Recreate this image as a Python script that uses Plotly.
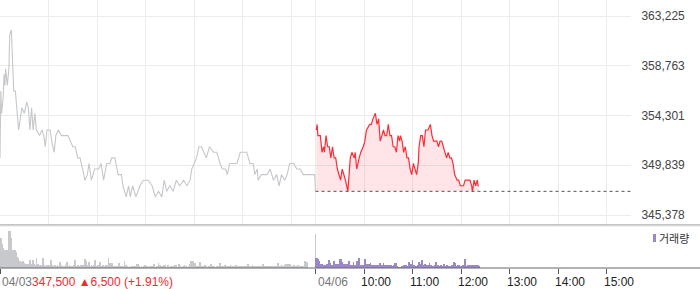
import plotly.graph_objects as go

# ---------------- data ----------------
# time axis: minutes since 04/03 09:00 (04/06 09:00 = 390)
gray_t = [0, 1, 2, 4, 5, 6, 7, 9, 11, 12, 14, 16, 17, 19, 23, 25, 27, 30, 33, 35,
          37, 39, 41, 43, 45, 49, 52, 54, 56, 58, 62, 64, 67, 69, 72, 76, 80, 84, 87, 90,
          93, 96, 99, 102, 105, 108, 110, 113, 117, 122, 125, 128, 132, 136, 138, 142, 146, 150, 152, 156,
          159, 161, 164, 168, 173, 177, 183, 188, 192, 196, 200, 203, 206, 210, 214, 218, 222, 227, 231, 235,
          237, 240, 243, 246, 249, 252, 255, 259, 264, 268, 272, 275, 279, 281, 284, 293, 297, 305, 309, 313,
          315, 318, 319, 323, 330, 334, 338, 342, 345, 348, 352, 355, 358, 363, 367, 371, 375, 389, 390]
gray_p = [350500, 356500, 354500, 356000, 358000, 357000, 358500, 357000, 358500, 361500,
          362000, 358500, 356500, 356500, 353000, 354000, 355000, 354500, 355500, 355000,
          353000, 355000, 353000, 354500, 353000, 352500, 353000, 352500, 351500, 353000,
          353000, 352000, 351000, 352500, 353000, 352500, 352500, 352500, 352000, 351500,
          351500, 350500, 350500, 349500, 348500, 349000, 350000, 348500, 349500, 349500,
          350000, 348500, 350000, 350000, 350500, 350500, 349000, 349000, 348000, 347000,
          348000, 347000, 348000, 347000, 348000, 348500, 348500, 348000, 347000, 347500,
          347000, 348500, 347500, 348000, 347500, 348500, 348000, 348500, 348000, 348500,
          349500, 350000, 350500, 351500, 351500, 351000, 350500, 351500, 351000, 351000,
          350000, 349500, 349500, 349000, 350000, 350000, 351000, 351000, 350000, 350000,
          349000, 349500, 348500, 349000, 349000, 349500, 348500, 349000, 348000, 349000,
          348500, 349000, 350000, 350000, 349500, 349500, 349000, 349000, 347500]

red_t = [391, 392, 393, 396, 398, 400, 401, 403, 405, 407, 409, 411, 413, 415, 417, 419, 421, 423, 425, 427,
         430, 433, 435, 438, 439, 441, 444, 446, 449, 451, 453, 457, 459, 461, 464, 466, 468, 470, 472, 474,
         476, 478, 480, 482, 484, 486, 488, 490, 492, 494, 495, 497, 499, 501, 503, 505, 507, 509, 511, 513,
         515, 517, 518, 520, 522, 524, 526, 528, 529, 532, 534, 536, 540, 542, 544, 546, 548, 550, 552, 554,
         556, 558, 560, 562, 565, 567, 569, 573, 575, 581, 583, 584, 586, 588, 590, 591, 592]
red_p = [353000, 353500, 352500, 352500, 351000, 351500, 351000, 352500, 351500, 351500,
         350500, 351500, 350500, 350500, 349500, 349000, 348500, 349500, 349000, 348500,
         347500, 350500, 351000, 350500, 351000, 349500, 350500, 351000, 351500, 352000,
         353000, 353500, 353500, 354000, 354500, 353500, 354000, 352000, 352500, 353000,
         352500, 352500, 353500, 352500, 352500, 351500, 351500, 351000, 352500, 352000,
         352500, 352000, 351000, 351500, 350500, 350500, 349500, 349000, 350000, 349500,
         349000, 350000, 351500, 352500, 352500, 351500, 353000, 353000, 353000, 353500,
         352500, 352000, 352000, 351500, 352000, 352000, 351500, 351000, 350500, 351000,
         350500, 350500, 350000, 349000, 348500, 348500, 348000, 348000, 348500, 348500,
         348000, 347500, 348500, 348000, 348500, 348000, 348000]

# per-minute volume, 04/03 09:00 .. 15:30 (last = closing auction)
vol_0403 = [
    23, 30, 20, 24, 20, 15, 18, 14, 16, 18, 15, 37, 37, 33, 30, 18, 17, 18, 11, 18, 16, 11, 10, 7, 6, 7, 6, 5, 7, 6,
    5, 4, 3, 4, 3, 4, 3, 8, 3, 4, 3, 8, 4, 3, 3, 10, 3, 4, 2, 3, 3, 2, 3, 10, 2, 3, 2, 2, 3, 2,
    2, 3, 2, 8, 2, 3, 2, 2, 3, 2, 2, 3, 2, 2, 6, 2, 3, 2, 2, 1, 2, 3, 2, 6, 2, 2, 3, 2, 2, 1,
    2, 3, 2, 8, 2, 2, 3, 2, 2, 2, 3, 2, 2, 3, 2, 9, 3, 7, 2, 3, 6, 2, 2, 3, 2, 2, 3, 8, 2, 2,
    2, 3, 2, 2, 6, 2, 2, 3, 2, 2, 2, 3, 2, 3, 10, 3, 5, 4, 5, 2, 2, 1, 2, 2, 1, 2, 2, 5, 2, 1,
    2, 1, 2, 2, 7, 2, 3, 2, 1, 1, 2, 1, 1, 2, 1, 1, 2, 1, 2, 4, 3, 4, 2, 1, 1, 2, 1, 1, 2, 3,
    1, 1, 2, 1, 1, 2, 1, 1, 2, 1, 4, 2, 1, 1, 2, 1, 5, 2, 3, 1, 2, 1, 3, 2, 3, 1, 1, 2, 3, 1,
    1, 2, 1, 1, 2, 1, 3, 2, 3, 1, 1, 4, 1, 2, 1, 1, 2, 1, 3, 1, 2, 1, 1, 2, 1, 4, 7, 2, 1, 7,
    5, 5, 2, 1, 2, 1, 2, 6, 2, 1, 2, 1, 2, 3, 1, 2, 1, 1, 2, 1, 2, 4, 1, 2, 1, 2, 1, 1, 2, 1,
    2, 1, 5, 2, 1, 2, 1, 2, 3, 1, 2, 1, 2, 1, 2, 3, 1, 2, 1, 2, 1, 2, 3, 1, 2, 1, 2, 1, 2, 1,
    2, 1, 2, 1, 2, 1, 2, 4, 1, 2, 1, 2, 3, 1, 2, 1, 2, 1, 2, 1, 2, 1, 2, 1, 2, 4, 1, 2, 1, 2,
    1, 2, 1, 2, 1, 2, 1, 2, 1, 2, 2, 1, 2, 2, 5, 2, 1, 2, 3, 2, 1, 2, 3, 2, 4, 3, 4, 2, 4, 2,
    2, 1, 2, 3, 2, 1, 2, 2, 3, 2, 1, 2, 2, 1, 2, 1, 2, 7, 2, 6, 0, 0, 0, 0, 0, 0, 0, 0, 0, 0,
    34,
]
# per-minute volume, 04/06 09:01 .. 12:22
vol_0406_start = 391
vol_0406 = [
    10, 10, 9, 7, 5, 4, 4, 4, 3, 3, 3, 3, 2, 4, 4, 4, 8, 5, 3, 2, 3, 3, 7, 4, 4, 4, 4, 4, 3, 9,
    6, 9, 6, 3, 4, 4, 4, 4, 4, 3, 7, 3, 3, 3, 2, 3, 6, 3, 3, 3, 7, 3, 3, 10, 3, 3, 3, 3, 3, 3,
    9, 4, 4, 4, 4, 4, 4, 5, 3, 3, 3, 3, 3, 3, 3, 3, 3, 3, 3, 5, 3, 3, 3, 5, 3, 3, 3, 3, 3, 3,
    3, 3, 3, 2, 2, 2, 3, 5, 5, 5, 2, 1, 1, 1, 1, 1, 2, 2, 3, 3, 2, 3, 2, 2, 3, 6, 3, 4, 3, 8,
    3, 3, 2, 2, 2, 2, 3, 6, 3, 4, 3, 8, 3, 3, 4, 3, 3, 3, 3, 2, 5, 3, 3, 2, 2, 2, 2, 3, 6, 3,
    3, 2, 2, 2, 3, 2, 2, 2, 4, 2, 2, 2, 3, 2, 2, 2, 2, 3, 3, 3, 6, 3, 5, 2, 2, 3, 3, 3, 2, 2,
    2, 3, 2, 2, 9, 2, 2, 3, 2, 3, 3, 3, 2, 2, 3, 2, 3, 3, 3, 3, 3, 2,
]

prev_close = 347500
last_price = 347500
change = 6500
change_pct = 1.91

y_ticks = [345378, 349839, 354301, 358763, 363225]
grid_minutes = [0, 60, 120, 180, 240, 300, 360, 390, 450, 510, 570, 630, 690, 750]
x_tick_minutes = [0, 390, 450, 510, 570, 630, 690, 750]
x_tick_text = ["04/03", "04/06", "10:00", "11:00", "12:00", "13:00", "14:00", "15:00"]
day_open, day_end = 390, 780
legend_label = "거래량"

# ---------------- layout constants ----------------
W, H = 700, 289
PL, PR = 0, 631          # plot area x pixels
PT, PB = 0, 268          # plot area y pixels
PRICE_BOTTOM = 225
VOL_TOP = 226
ph = PB - PT

def py(px):  # pixel y -> paper y
    return (PB - px) / ph

def pxx(px):  # pixel x -> paper x
    return (px - PL) / (PR - PL)

FONT = "Liberation Sans, Arial, Noto Sans CJK KR, sans-serif"
GRID = "#ececec"

fig = go.Figure()

# gray previous-day line
fig.add_trace(go.Scatter(x=gray_t, y=gray_p, mode="lines",
                         line=dict(color="#c5c7cb", width=1.1),
                         xaxis="x", yaxis="y", hoverinfo="skip"))
# invisible baseline for fill
fig.add_trace(go.Scatter(x=red_t, y=[prev_close] * len(red_t), mode="lines",
                         line=dict(width=0, color="rgba(0,0,0,0)"),
                         xaxis="x", yaxis="y", hoverinfo="skip"))
fig.add_trace(go.Scatter(x=red_t, y=red_p, mode="lines", fill="tonexty",
                         fillcolor="rgba(255,40,60,0.12)",
                         line=dict(color="#ff2b35", width=1.2),
                         xaxis="x", yaxis="y", hoverinfo="skip"))
# dotted previous close line
fig.add_trace(go.Scatter(x=[day_open, day_end], y=[prev_close, prev_close], mode="lines",
                         line=dict(color="#555555", width=1, dash="dot"),
                         xaxis="x", yaxis="y", hoverinfo="skip"))

# volume bars
fig.add_trace(go.Bar(x=list(range(len(vol_0403))), y=vol_0403, width=1,
                     marker=dict(color="#c8c9cc", line=dict(width=0)),
                     xaxis="x2", yaxis="y2", hoverinfo="skip"))
fig.add_trace(go.Bar(x=[vol_0406_start + i for i in range(len(vol_0406))], y=vol_0406, width=1,
                     marker=dict(color="#9b88c9", line=dict(width=0)),
                     xaxis="x2", yaxis="y2", hoverinfo="skip"))

# price range so that ticks land on their pixel rows (tick 345378 at y=215, 363225 at y=16)
per_px = (y_ticks[-1] - y_ticks[0]) / (215 - 16)
price_lo = y_ticks[0] - (PRICE_BOTTOM - 215) * per_px
price_hi = y_ticks[-1] + (16 - PT) * per_px

fig.update_layout(
    width=W, height=H,
    margin=dict(l=PL, r=W - PR, t=PT, b=H - PB),
    paper_bgcolor="white", plot_bgcolor="white",
    showlegend=False, bargap=0,
    font=dict(family=FONT, size=12, color="#333"),
    xaxis=dict(domain=[0, 1], range=[0, day_end], anchor="y",
               tickvals=grid_minutes, showticklabels=False, ticks="",
               showgrid=True, gridcolor=GRID, gridwidth=1, zeroline=False, showline=False),
    yaxis=dict(domain=[py(PRICE_BOTTOM), 1], range=[price_lo, price_hi], side="right",
               tickvals=y_ticks, tickformat=",d", showgrid=True, gridcolor=GRID,
               zeroline=False, showline=False, ticks="outside", ticklen=7,
               tickcolor="rgba(0,0,0,0)", tickfont=dict(size=12, color="#444")),
    xaxis2=dict(domain=[0, 1], range=[0, day_end], anchor="y2",
                tickvals=x_tick_minutes, showticklabels=False, ticks="outside",
                ticklen=5, tickcolor="#555", showgrid=False, zeroline=False, showline=False),
    yaxis2=dict(domain=[0, py(VOL_TOP)], range=[0, PB - VOL_TOP], showticklabels=False,
                showgrid=False, zeroline=False, showline=False),
)

shapes = [
    dict(type="line", xref="paper", yref="paper", x0=0, x1=pxx(W), y0=py(PRICE_BOTTOM), y1=py(PRICE_BOTTOM),
         line=dict(color="#8a8a8a", width=1)),
    dict(type="line", xref="paper", yref="paper", x0=0, x1=pxx(W), y0=py(VOL_TOP), y1=py(VOL_TOP),
         line=dict(color="#e6e6e6", width=1)),
    dict(type="line", xref="paper", yref="paper", x0=0, x1=pxx(W), y0=0, y1=0,
         line=dict(color="#666", width=1)),
    dict(type="rect", xref="paper", yref="paper", x0=pxx(653), x1=pxx(656), y0=py(242), y1=py(234),
         fillcolor="#9b88c9", line=dict(width=0)),
]
fig.update_layout(shapes=shapes)

annotations = []
header = (f"<span style='color:#777'>{x_tick_text[0]}</span>"
          f"<span style='color:#f02a30'>{last_price:,} ▲{change:,} (+{change_pct:.2f}%)</span>")
annotations.append(dict(x=x_tick_minutes[0], y=0, xref="x2", yref="paper", text=header,
                        showarrow=False, xanchor="left", yanchor="top", yshift=-5,
                        font=dict(size=12)))
for m, t in zip(x_tick_minutes[1:], x_tick_text[1:]):
    is_date = "/" in t
    annotations.append(dict(x=m, y=0, xref="x2", yref="paper", text=t, showarrow=False,
                            xanchor="left", yanchor="top", yshift=-5,
                            xshift=0 if is_date else -5,
                            font=dict(size=12, color="#777" if is_date else "#222")))
annotations.append(dict(x=pxx(657), y=py(238), xref="paper", yref="paper", text=legend_label,
                        showarrow=False, xanchor="left", yanchor="middle",
                        font=dict(size=11, color="#333", family="Noto Sans CJK KR, sans-serif")))
fig.update_layout(annotations=annotations)

fig.write_html("out.html")
